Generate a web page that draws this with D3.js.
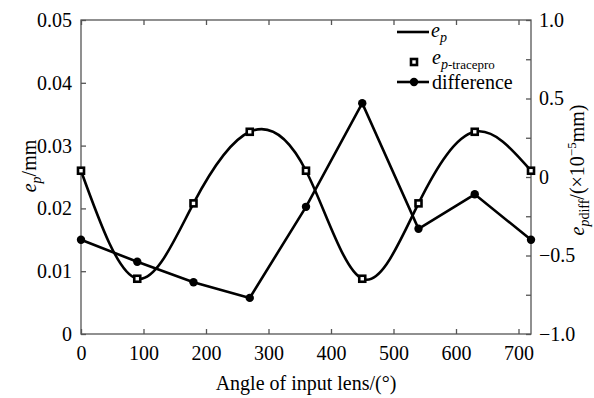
<!DOCTYPE html>
<html>
<head>
<meta charset="utf-8">
<script src="https://d3js.org/d3.v7.min.js"></script>
<style>
body { margin: 0; background: #fff; }
svg text { font-family: "Liberation Serif", "DejaVu Serif", serif; fill: #000; }
.frame { fill: none; stroke: #555; stroke-width: 1.3px; }
.tick line { stroke: #555; stroke-width: 1.3px; }
.ep { fill: none; stroke: #000; stroke-width: 2.6px; }
.diff { fill: none; stroke: #000; stroke-width: 2.6px; }
</style>
</head>
<body>
<svg id="chart" width="594" height="398"></svg>
<script>
// data
var angles = [0, 90, 180, 270, 360, 450, 540, 630, 720];
var epTracepro = [0.026, 0.0088, 0.0208, 0.0322, 0.026, 0.0088, 0.0208, 0.0322, 0.026];
var difference = [-0.40, -0.54, -0.67, -0.77, -0.19, 0.47, -0.33, -0.11, -0.40];

var xTicks = [0, 100, 200, 300, 400, 500, 600, 700];
var leftTicks = [0, 0.01, 0.02, 0.03, 0.04, 0.05];
var rightTicks = [-1, -0.75, -0.5, -0.25, 0, 0.25, 0.5, 0.75, 1];
var rightLabels = [-1, -0.5, 0, 0.5, 1];

var serif = "Liberation Serif, DejaVu Serif, serif";
var svg = d3.select("#chart").attr("font-family", serif);
var mLeft = 81, mRight = 531, mTop = 20, mBottom = 334;

var x = d3.scaleLinear().domain([0, 720]).range([mLeft, mRight]);
var yL = d3.scaleLinear().domain([0, 0.05]).range([mBottom, mTop]);
var yR = d3.scaleLinear().domain([-1, 1]).range([mBottom, mTop]);

// axes (ticks pointing inward)
svg.append("g")
    .attr("transform", "translate(0," + mBottom + ")")
    .call(d3.axisBottom(x).tickValues(xTicks).tickSizeInner(-5).tickSizeOuter(0).tickPadding(12))
    .attr("font-family", serif).attr("font-size", 20)
    .call(function(g) { g.select(".domain").remove(); });

svg.append("g")
    .attr("transform", "translate(0," + mTop + ")")
    .call(d3.axisTop(x).tickValues(xTicks).tickSizeInner(-5).tickSizeOuter(0).tickFormat(""))
    .call(function(g) { g.select(".domain").remove(); });

svg.append("g")
    .attr("transform", "translate(" + mLeft + ",0)")
    .call(d3.axisLeft(yL).tickValues(leftTicks).tickSizeInner(-5).tickSizeOuter(0).tickPadding(9)
        .tickFormat(function(d) { return d === 0 ? "0" : d3.format(".2f")(d); }))
    .attr("font-family", serif).attr("font-size", 20)
    .call(function(g) { g.select(".domain").remove(); });

svg.append("g")
    .attr("transform", "translate(" + mRight + ",0)")
    .call(d3.axisRight(yR).tickValues(rightTicks).tickSizeInner(-5).tickSizeOuter(0).tickPadding(8)
        .tickFormat(function(d) {
            if (rightLabels.indexOf(d) < 0) return "";
            if (d === 0) return "0";
            return (d < 0 ? "\u2212" : "") + d3.format(".1f")(Math.abs(d));
        }))
    .attr("font-family", serif).attr("font-size", 20)
    .call(function(g) { g.select(".domain").remove(); });

svg.append("rect")
    .attr("class", "frame")
    .attr("x", mLeft).attr("y", mTop)
    .attr("width", mRight - mLeft).attr("height", mBottom - mTop);

// axis titles
svg.append("text")
    .attr("x", (mLeft + mRight) / 2).attr("y", 390)
    .attr("text-anchor", "middle")
    .style("font-size", "20px")
    .text("Angle of input lens/(\u00b0)");

var lt = svg.append("text")
    .attr("transform", "translate(36,166) rotate(-90)")
    .attr("text-anchor", "middle")
    .style("font-size", "20px");
lt.append("tspan").style("font-style", "italic").text("e");
lt.append("tspan").style("font-style", "italic").style("font-size", "14px").attr("dy", 5).text("p");
lt.append("tspan").attr("dy", -5).text("/mm");

var rt = svg.append("text")
    .attr("transform", "translate(584,170) rotate(-90)")
    .attr("text-anchor", "middle")
    .style("font-size", "20px");
rt.append("tspan").style("font-style", "italic").text("e");
rt.append("tspan").style("font-style", "italic").style("font-size", "14px").attr("dy", 5).text("p");
rt.append("tspan").style("font-size", "14px").text("diff");
rt.append("tspan").attr("dy", -5).text("/(\u00d710");
rt.append("tspan").style("font-size", "13px").attr("dy", -8).text("\u22125");
rt.append("tspan").attr("dy", 8).text("mm)");

// series
var epLine = d3.line()
    .x(function(d, i) { return x(angles[i]); })
    .y(function(d) { return yL(d); })
    .curve(d3.curveNatural);

var diffLine = d3.line()
    .x(function(d, i) { return x(angles[i]); })
    .y(function(d) { return yR(d); });

svg.append("path").datum(epTracepro).attr("class", "ep").attr("d", epLine);
svg.append("path").datum(difference).attr("class", "diff").attr("d", diffLine);

svg.selectAll(".sq").data(epTracepro).enter().append("rect")
    .attr("class", "sq")
    .attr("x", function(d, i) { return x(angles[i]) - 3; })
    .attr("y", function(d) { return yL(d) - 3; })
    .attr("width", 6).attr("height", 6)
    .attr("fill", "#fff").attr("stroke", "#000").attr("stroke-width", 2.6);

svg.selectAll(".dot").data(difference).enter().append("circle")
    .attr("class", "dot")
    .attr("cx", function(d, i) { return x(angles[i]); })
    .attr("cy", function(d) { return yR(d); })
    .attr("r", 4.2)
    .attr("fill", "#000");

// legend
var lg = svg.append("g");
lg.append("line").attr("x1", 397).attr("x2", 429).attr("y1", 32).attr("y2", 32)
    .attr("stroke", "#000").attr("stroke-width", 2.6);
var t1 = lg.append("text").attr("x", 431).attr("y", 37).style("font-size", "20px");
t1.append("tspan").style("font-style", "italic").text("e");
t1.append("tspan").style("font-style", "italic").style("font-size", "14px").attr("dy", 5).text("p");

lg.append("rect").attr("x", 411).attr("y", 59).attr("width", 6).attr("height", 6)
    .attr("fill", "#fff").attr("stroke", "#000").attr("stroke-width", 2.6);
var t2 = lg.append("text").attr("x", 432).attr("y", 64).style("font-size", "20px");
t2.append("tspan").style("font-style", "italic").text("e");
t2.append("tspan").style("font-style", "italic").style("font-size", "14px").attr("dy", 5).text("p");
t2.append("tspan").style("font-size", "13px").text("-tracepro");

lg.append("line").attr("x1", 397).attr("x2", 429).attr("y1", 82).attr("y2", 82)
    .attr("stroke", "#000").attr("stroke-width", 2.6);
lg.append("circle").attr("cx", 414).attr("cy", 82).attr("r", 4.2).attr("fill", "#000");
lg.append("text").attr("x", 432).attr("y", 89).style("font-size", "20px").text("difference");
</script>
</body>
</html>
